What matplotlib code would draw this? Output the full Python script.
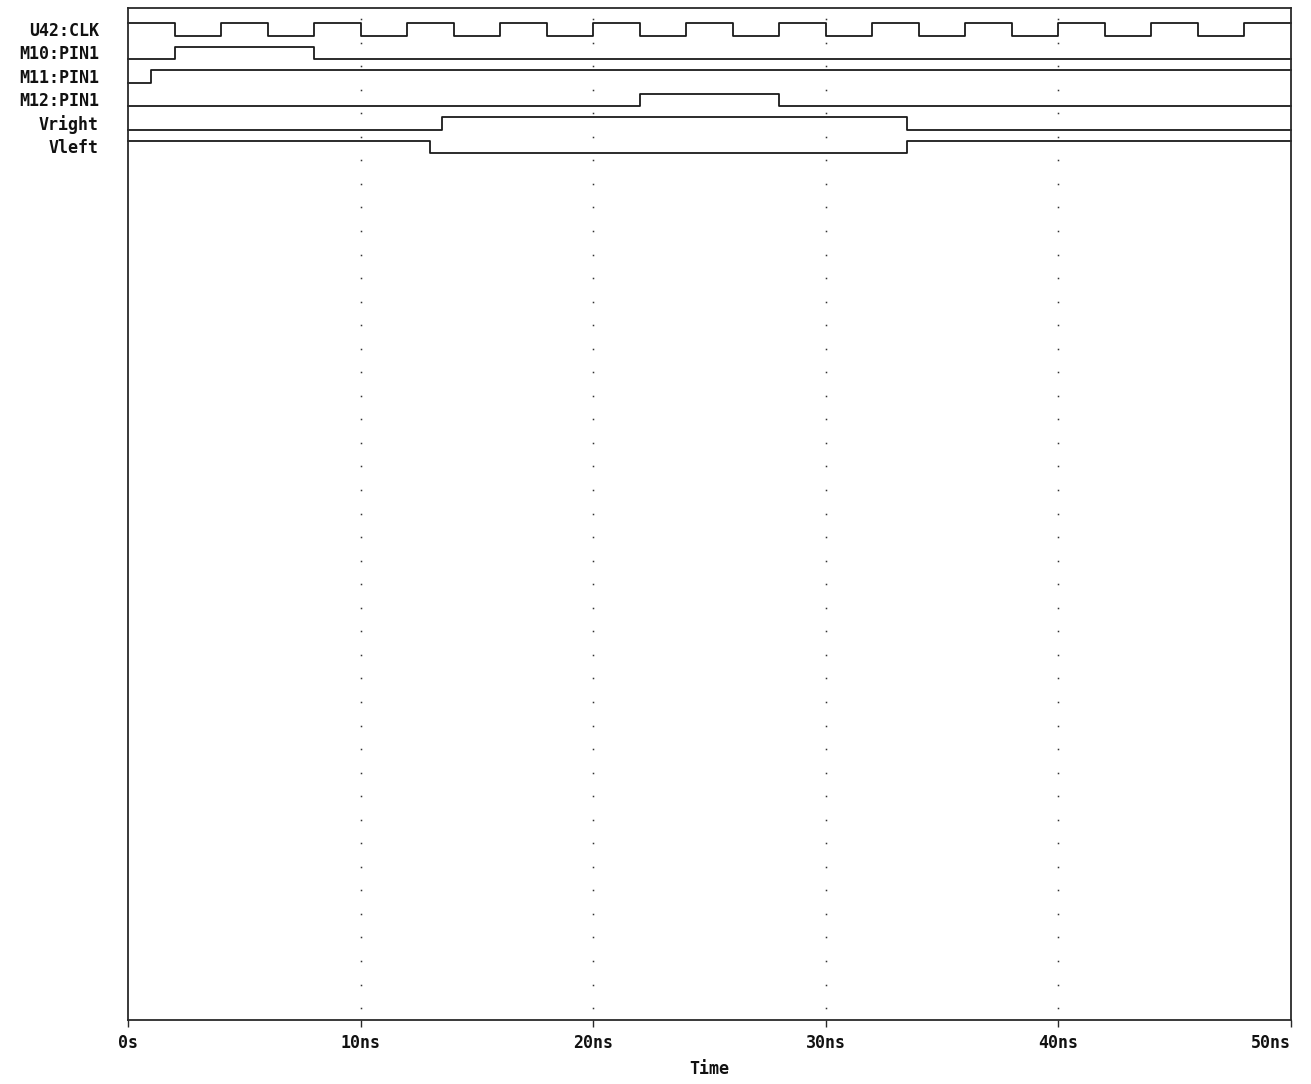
import matplotlib
matplotlib.use("Agg")
import matplotlib.pyplot as plt
import matplotlib.transforms as mtransforms
import numpy as np

# ---- data (times in ns) ----
signal_names = ["U42:CLK", "M10:PIN1", "M11:PIN1", "M12:PIN1", "Vright", "Vleft"]
initial_levels = [1, 0, 0, 0, 0, 1]
clk_edges = [2, 4, 6, 8, 10, 12, 14, 16, 18, 20, 22, 24, 26, 28, 30, 32, 34,
             36, 38, 40, 42, 44, 46, 48]
m10_edges = [2, 8]
m11_edges = [1]
m12_edges = [22, 28]
vright_edges = [13.5, 33.5]
vleft_edges = [13, 33.5]
all_edges = [clk_edges, m10_edges, m11_edges, m12_edges, vright_edges, vleft_edges]
t_end = 50
tick_vals = [0, 10, 20, 30, 40, 50]
tick_labels = ["0s", "10ns", "20ns", "30ns", "40ns", "50ns"]

W, H = 1311, 1084
fig = plt.figure(figsize=(W / 100, H / 100), dpi=100)
left_px, right_px, top_px, bot_px = 128, 1291, 8, 1020
ax = fig.add_axes([left_px / W, 1 - bot_px / H, (right_px - left_px) / W,
                   (bot_px - top_px) / H])
ax.set_xlim(0, t_end)
ax.set_ylim(bot_px - top_px, 0)

line_col = "#1a1a1a"
row_pitch = 23.5
amp = 12.5
font = dict(family="DejaVu Sans Mono", weight="bold", size=12)

blend = mtransforms.blended_transform_factory(ax.transAxes, ax.transData)
for i, (name, lvl0, edges) in enumerate(zip(signal_names, initial_levels, all_edges)):
    y_high = 15 + row_pitch * i
    y_low = y_high + amp
    times = [0] + list(edges) + [t_end]
    levels = [lvl0]
    for _ in edges:
        levels.append(1 - levels[-1])
    levels.append(levels[-1])
    ys = [y_high if l else y_low for l in levels]
    ax.step(times, ys, where="post", color=line_col, lw=1.3, clip_on=False)
    ax.text((99 - left_px) / (right_px - left_px), (y_high + y_low) / 2 + 1.5, name,
            transform=blend, ha="right", va="center", color="#111111", **font)

# dotted grid
dot_y = 11 + 23.55 * np.arange(43)
for xv in tick_vals[1:-1]:
    ax.plot(np.full(dot_y.shape, xv), dot_y, ls="none", marker="s", ms=1.1,
            mew=0, color="#333333")

for s in ax.spines.values():
    s.set_color("#2a2a2a")
    s.set_linewidth(1.3)

ax.set_yticks([])
ax.set_xticks(tick_vals)
ax.set_xticklabels(tick_labels, **font)
ax.get_xticklabels()[-1].set_ha("right")
ax.tick_params(axis="x", direction="out", length=5, width=1, color="#2a2a2a",
               pad=5, labelcolor="#111111")
ax.set_xlabel("Time", labelpad=6, color="#111111", **font)

fig.savefig("out.png", dpi=100, facecolor="white")
